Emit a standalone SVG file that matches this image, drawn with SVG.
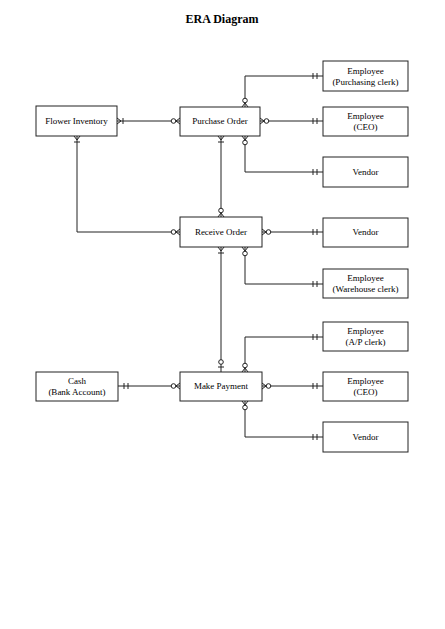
<svg xmlns="http://www.w3.org/2000/svg" xmlns:xlink="http://www.w3.org/1999/xlink" width="445" height="629" viewBox="0 0 445 629">
<style>
rect.n{fill:#fff;stroke:#222;stroke-width:1}
text{font-family:"Liberation Serif","DejaVu Serif",serif;font-size:9px;fill:#000;text-anchor:middle}
text.t{font-size:12px;font-weight:bold}
.c path{fill:none;stroke:#222;stroke-width:1}
</style>
<defs>
<g id="zm" fill="none" stroke="#222" stroke-width="1"><path d="M0,-3 L-4,0 L0,3"/><circle cx="-6.5" cy="0" r="2.3" fill="#fff"/></g>
<g id="om" fill="none" stroke="#222" stroke-width="1"><path d="M0,-3 L-4,0 L0,3 M-6,-3 V3"/></g>
<g id="oo" fill="none" stroke="#222" stroke-width="1"><path d="M-6,-3 V3 M-10,-3 V3"/></g>
<g id="zo" fill="none" stroke="#222" stroke-width="1"><path d="M-5,-3 V3"/><circle cx="-10" cy="0" r="2.3" fill="#fff"/></g>
</defs>
<rect width="445" height="629" fill="#fff"/>
<text class="t" x="222" y="23">ERA Diagram</text>
<g id="connectors" class="c">
<path d="M117,121 H180"/>
<path d="M245,107 V76 H323"/>
<path d="M260,121 H323"/>
<path d="M245,136 V172 H323"/>
<path d="M221,136 V217"/>
<path d="M77,136 V232 H180"/>
<path d="M262,232 H323"/>
<path d="M245,247 V284 H323"/>
<path d="M221,247 V372"/>
<path d="M245,372 V337 H323"/>
<path d="M118,386 H180"/>
<path d="M262,386 H323"/>
<path d="M245,401 V437 H323"/>
<use href="#om" transform="translate(117,121) rotate(180)"/>
<use href="#zm" transform="translate(180,121)"/>
<use href="#zm" transform="translate(245,107) rotate(90)"/>
<use href="#oo" transform="translate(323,76)"/>
<use href="#zm" transform="translate(260,121) rotate(180)"/>
<use href="#oo" transform="translate(323,121)"/>
<use href="#zm" transform="translate(245,136) rotate(-90)"/>
<use href="#oo" transform="translate(323,172)"/>
<use href="#om" transform="translate(221,136) rotate(-90)"/>
<use href="#zm" transform="translate(221,217) rotate(90)"/>
<use href="#om" transform="translate(77,136) rotate(-90)"/>
<use href="#zm" transform="translate(180,232)"/>
<use href="#zm" transform="translate(262,232) rotate(180)"/>
<use href="#oo" transform="translate(323,232)"/>
<use href="#zm" transform="translate(245,247) rotate(-90)"/>
<use href="#oo" transform="translate(323,284)"/>
<use href="#om" transform="translate(221,247) rotate(-90)"/>
<use href="#zo" transform="translate(221,372) rotate(90)"/>
<use href="#zm" transform="translate(245,372) rotate(90)"/>
<use href="#oo" transform="translate(323,337)"/>
<use href="#oo" transform="translate(118,386) rotate(180)"/>
<use href="#zm" transform="translate(180,386)"/>
<use href="#zm" transform="translate(262,386) rotate(180)"/>
<use href="#oo" transform="translate(323,386)"/>
<use href="#zm" transform="translate(245,401) rotate(-90)"/>
<use href="#oo" transform="translate(323,437)"/>
</g>
<g id="flower-inventory"><rect class="n" x="36" y="106" width="81" height="30"/><text x="76.5" y="124">Flower Inventory</text></g>
<g id="purchase-order"><rect class="n" x="180" y="107" width="80" height="29"/><text x="220" y="124">Purchase Order</text></g>
<g id="emp-purchasing"><rect class="n" x="323" y="61" width="85" height="30"/><text x="365.5" y="73.5">Employee</text><text x="365.5" y="84.5">(Purchasing clerk)</text></g>
<g id="emp-ceo-1"><rect class="n" x="323" y="107" width="85" height="29"/><text x="365.5" y="118.5">Employee</text><text x="365.5" y="129.5">(CEO)</text></g>
<g id="vendor-1"><rect class="n" x="323" y="157" width="85" height="30"/><text x="365.5" y="175">Vendor</text></g>
<g id="receive-order"><rect class="n" x="180" y="217" width="82" height="30"/><text x="221" y="235">Receive Order</text></g>
<g id="vendor-2"><rect class="n" x="323" y="218" width="85" height="29"/><text x="365.5" y="235">Vendor</text></g>
<g id="emp-warehouse"><rect class="n" x="323" y="269" width="85" height="29"/><text x="365.5" y="280.5">Employee</text><text x="365.5" y="291.5">(Warehouse clerk)</text></g>
<g id="emp-ap"><rect class="n" x="323" y="322" width="85" height="29"/><text x="365.5" y="333.5">Employee</text><text x="365.5" y="344.5">(A/P clerk)</text></g>
<g id="make-payment"><rect class="n" x="180" y="372" width="82" height="29"/><text x="221" y="389">Make Payment</text></g>
<g id="cash"><rect class="n" x="36" y="372" width="82" height="29"/><text x="77" y="383.5">Cash</text><text x="77" y="394.5">(Bank Account)</text></g>
<g id="emp-ceo-2"><rect class="n" x="323" y="372" width="85" height="29"/><text x="365.5" y="383.5">Employee</text><text x="365.5" y="394.5">(CEO)</text></g>
<g id="vendor-3"><rect class="n" x="323" y="422" width="85" height="30"/><text x="365.5" y="440">Vendor</text></g>
</svg>
